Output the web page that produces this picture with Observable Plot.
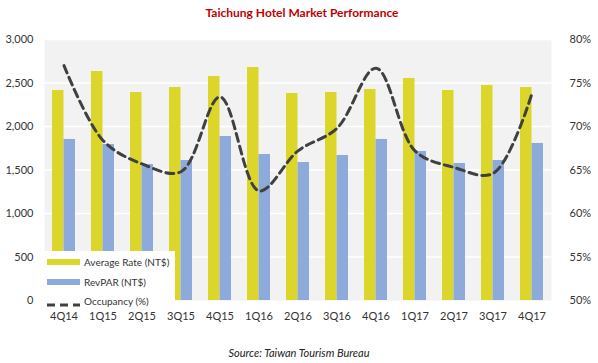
<!DOCTYPE html>
<html>
<head>
<meta charset="utf-8">
<script src="https://cdn.jsdelivr.net/npm/d3@7"></script>
<script src="https://cdn.jsdelivr.net/npm/@observablehq/plot@0.6"></script>
<style>
  body { margin: 0; background: #fff; font-family: Lato, "Open Sans", sans-serif; }
  #wrap { position: relative; width: 598px; height: 363px; }
  #title { height: 26px; line-height: 26px; text-align: center; color: #c00000; font-weight: bold; font-size: 12px; padding-left: 6px; }
  #caption { position: absolute; top: 346px; left: 0; width: 598px; text-align: center; font-style: italic; font-size: 11px; color: #222; }
  #legend { position: absolute; left: 44px; top: 251px; width: 131px; height: 56px; background: #fff; font-size: 10px; color: #333; }
  .item { position: absolute; left: 3px; height: 14px; display: flex; align-items: center; }
  .sw { width: 33px; margin-right: 4px; }
</style>
</head>
<body>
<div id="wrap">
  <div id="title">Taichung Hotel Market Performance</div>
  <div id="chart"></div>
  <div id="legend"></div>
  <div id="caption">Source: Taiwan Tourism Bureau</div>
</div>
<script>
const quarters = ["4Q14","1Q15","2Q15","3Q15","4Q15","1Q16","2Q16","3Q16","4Q16","1Q17","2Q17","3Q17","4Q17"];
const avgRate = [2414,2632,2391,2448,2575,2678,2379,2391,2425,2552,2414,2471,2448];
const revpar = [1851,1793,1563,1609,1885,1678,1586,1667,1851,1713,1575,1609,1805];
const occupancy = [77.0,68.4,65.7,64.8,73.4,62.6,67.2,69.8,76.7,67.2,65.3,64.6,73.8];
const leftTicks = [0,500,1000,1500,2000,2500,3000];
const rightTicks = [50,55,60,65,70,75,80];
const seriesNames = ["Average Rate (NT$)","RevPAR (NT$)","Occupancy (%)"];
const colors = ["#dcd62b","#8eaadb","#404040"];

// map occupancy (50-80%) onto the left scale (0-3000)
const occToY = o => (o - 50) * 100;

const rows = quarters.map((q, i) => ({q, avg: avgRate[i], rev: revpar[i], occ: occToY(occupancy[i])}));

const chart = Plot.plot({
  width: 598,
  height: 304,
  marginLeft: 44,
  marginRight: 47,
  marginTop: 13,
  marginBottom: 30,
  style: {fontFamily: "Lato, 'Open Sans', sans-serif", fontSize: "11px", color: "#333"},
  x: {domain: quarters, padding: 0, label: null},
  y: {domain: [0, 3000], label: null},
  marks: [
    Plot.frame({fill: "#f2f2f2", stroke: null}),
    Plot.ruleY(leftTicks.slice(1), {stroke: "#fff", strokeWidth: 1.5}),
    Plot.barY(rows, {x: "q", y: "avg", fill: colors[0], insetLeft: 8, insetRight: 19.5}),
    Plot.barY(rows, {x: "q", y: "rev", fill: colors[1], insetLeft: 19.5, insetRight: 8}),
    Plot.lineY(rows, {x: "q", y: "occ", stroke: colors[2], strokeWidth: 3, strokeDasharray: "8,5", curve: "catmull-rom"}),
    Plot.axisY({anchor: "left", ticks: leftTicks, tickFormat: d3.format(","), tickSize: 0, tickPadding: 11, label: null}),
    Plot.axisY({anchor: "right", ticks: rightTicks.map(occToY), tickFormat: (d, i) => rightTicks[i] + "%", tickSize: 0, tickPadding: 18, label: null}),
    Plot.axisX({tickSize: 0, tickPadding: 12, label: null})
  ]
});
document.getElementById("chart").appendChild(chart);

// legend
const legend = document.getElementById("legend");
const tops = [4, 24, 43];
seriesNames.forEach((name, i) => {
  const it = document.createElement("div");
  it.className = "item";
  it.style.top = tops[i] + "px";
  const sw = document.createElement("div");
  sw.className = "sw";
  if (i < 2) {
    sw.style.height = "6px";
    sw.style.background = colors[i];
  } else {
    sw.innerHTML = `<svg width="33" height="6"><line x1="0" y1="3" x2="33" y2="3" stroke="${colors[2]}" stroke-width="3" stroke-dasharray="8,5"/></svg>`;
    sw.style.height = "6px";
  }
  const t = document.createElement("span");
  t.textContent = name;
  it.appendChild(sw);
  it.appendChild(t);
  legend.appendChild(it);
});
</script>
</body>
</html>
